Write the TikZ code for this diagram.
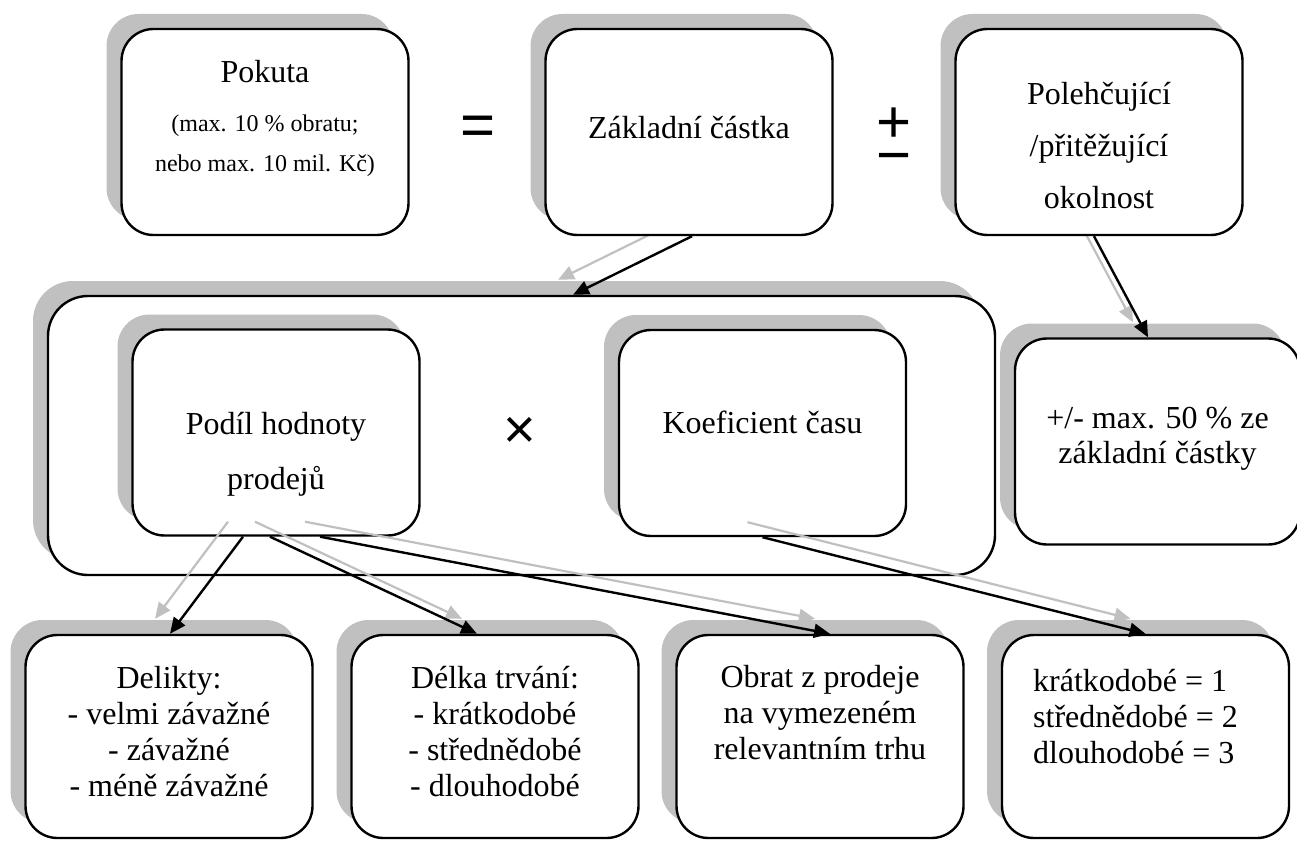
\documentclass[tikz,border=0pt]{standalone}
\usepackage{fontspec}
\setmainfont{Liberation Serif}
\newfontfamily\znakfont{Liberation Sans}
\usetikzlibrary{arrows.meta,shadows}
\definecolor{stin}{HTML}{C0C0C0}
\pgfdeclarelayer{pozadi}
\pgfsetlayers{pozadi,main}
\tikzset{
  ramecek/.style={draw, line width=2.4pt, fill=white, rounded corners=32pt, inner sep=0pt,
    minimum width=287pt, minimum height=206pt,
    drop shadow={shadow xshift=-15pt, shadow yshift=15pt, fill=stin, opacity=1}},
  popis/.style={align=center, inner sep=0pt, font=\fontsize{32}{36}\selectfont},
  znak/.style={inner sep=0pt, font=\znakfont\fontsize{60}{60}\selectfont},
  sipka/.style={-{Triangle[length=16pt,width=14pt]}, line width=2.4pt, color=black},
  stinsipka/.style={sipka, line width=2.2pt, color=stin}
}
\begin{document}
\begin{tikzpicture}[x=1pt, y=-1pt]
\useasboundingbox (0,0) rectangle (1297,840);
\node[ramecek] (pokuta) at (265,132) {};
\node[ramecek] (zakl) at (689,132) {};
\node[ramecek] (poleh) at (1099,132) {};
\node[ramecek, minimum width=947pt, minimum height=279pt, rounded corners=40pt] (ramec) at (521.5,435.5) {};
\node[ramecek] (podil) at (276,432.5) {};
\node[ramecek] (koef) at (762.5,433) {};
\node[ramecek, minimum width=285pt] (maxbox) at (1157.5,441.5) {};
\node[ramecek, minimum height=203pt] (delikty) at (169,736.5) {};
\node[ramecek, minimum height=203pt] (delka) at (495,736.5) {};
\node[ramecek, minimum height=203pt] (obrat) at (820,736.5) {};
\node[ramecek, minimum height=203pt] (kratko) at (1145.5,736.5) {};

\node[popis, font=\fontsize{24}{40}\selectfont] (pokutaText) at (265,118)
  {{\fontsize{32}{40}\selectfont Pokuta}\\[9pt](max. 10 \% obratu;\\nebo max. 10 mil. Kč)};
\node[popis] (zaklText) at (689,128) {Základní částka};
\node[popis, font=\fontsize{32}{52}\selectfont] (polehText) at (1099,145.5) {Polehčující\\/přitěžující\\okolnost};
\node[popis, font=\fontsize{32}{55}\selectfont] (podilText) at (276,454.5) {Podíl hodnoty\\prodejů};
\node[popis] (koefText) at (762.5,422) {Koeficient času};
\node[popis, font=\fontsize{32}{35}\selectfont] (maxText) at (1157.5,439) {+/- max. 50 \% ze\\základní částky};
\node[popis] (deliktyText) at (169,732) {Delikty:\\- velmi závažné\\- závažné\\- méně závažné};
\node[popis] (delkaText) at (495,732) {Délka trvání:\\- krátkodobé\\- střednědobé\\- dlouhodobé};
\node[popis] (obratText) at (820,713) {Obrat z prodeje\\na vymezeném\\relevantním trhu};
\node[popis, align=left, anchor=west] (kratkoText) at (1033,716.5) {krátkodobé = 1\\střednědobé = 2\\dlouhodobé = 3};

\node[znak, anchor=base] (rovno) at (478,145.5) {=};
\node[znak, align=center, font=\znakfont\fontsize{60}{33}\selectfont] (plusminus) at (894.5,142) {+\\−};
\node[znak, anchor=base, font=\znakfont\fontsize{56}{56}\selectfont] (krat) at (519.5,448) {×};

\begin{pgfonlayer}{pozadi}
\draw[stinsipka] ([shift={(-12pt,15pt)}]zakl.south) -- ([shift={(36.5pt,15pt)}]ramec.north);
\draw[stinsipka] ([shift={(-20pt,15pt)}]poleh.south) -- ([shift={(-24.5pt,15pt)}]maxbox.north);
\end{pgfonlayer}
\draw[sipka] ([xshift=3pt]zakl.south) -- ([xshift=51.5pt]ramec.north);
\draw[sipka] ([xshift=-5pt]poleh.south) -- ([xshift=-9.5pt]maxbox.north);

\draw[stinsipka] ([shift={(-48pt,15pt)}]podil.south) -- ([shift={(-14pt,15pt)}]delikty.north);
\draw[stinsipka] ([shift={(-21pt,15pt)}]podil.south) -- ([shift={(-33pt,15pt)}]delka.north);
\draw[stinsipka] ([shift={(29pt,15pt)}]podil.south) -- ([shift={(-5pt,15pt)}]obrat.north);
\draw[stinsipka] ([shift={(-15pt,15pt)}]koef.south) -- ([shift={(-15pt,15pt)}]kratko.north);
\draw[sipka] ([xshift=-33pt]podil.south) -- ([xshift=1pt]delikty.north);
\draw[sipka] ([xshift=-6pt]podil.south) -- ([xshift=-18pt]delka.north);
\draw[sipka] ([xshift=44pt]podil.south) -- ([xshift=10pt]obrat.north);
\draw[sipka] (koef.south) -- (kratko.north);
\end{tikzpicture}
\end{document}
